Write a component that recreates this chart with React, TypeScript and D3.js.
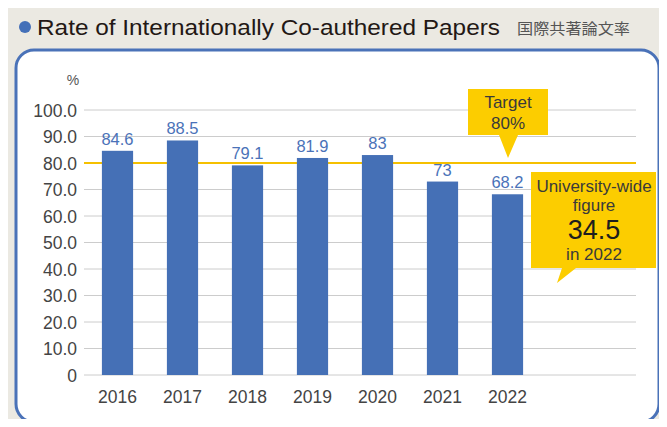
import React from "react";
import * as d3 from "d3";

const years = ["2016", "2017", "2018", "2019", "2020", "2021", "2022"];
const rates = [84.6, 88.5, 79.1, 81.9, 83, 73, 68.2];
const rateLabels = ["84.6", "88.5", "79.1", "81.9", "83", "73", "68.2"];
const yTicks = [0, 10, 20, 30, 40, 50, 60, 70, 80, 90, 100];
const target = 80;
const targetLines = ["Target", "80%"];
const uniLines = ["University-wide", "figure", "34.5", "in 2022"];

const W = 667, H = 427;
const font = "'Liberation Sans', Arial, sans-serif";

export default function App() {
  const y = d3.scaleLinear().domain([0, 100]).range([375, 110]);
  const x = d3.scaleBand().domain(years).range([85, 540]).paddingInner(0.52).paddingOuter(0.26);
  const bw = x.bandwidth();
  const yellow = "#fccd00";
  const blue = "#4570b6";
  const tX = 508;
  const txt = "#3a3a3a";
  return (
    <div style={{ margin: -8, width: W, height: H }}>
      <svg width={W} height={H} style={{ display: "block" }} fontFamily={font}>
        <rect width={W} height={H} fill="#ebe9e2" />
        <circle cx={25} cy={27} r={6} fill="#4470b8" />
        <text x={37} y={35} fontSize={21.5} fill="#231815" textLength={463} lengthAdjust="spacingAndGlyphs">Rate of Internationally Co-authered Papers</text>
        <text x={517} y={34} fontSize={15} fill="#555" fontFamily="'Noto Sans CJK JP', sans-serif" textLength={113} lengthAdjust="spacingAndGlyphs">国際共著論文率</text>
        <rect x={16} y={50} width={643} height={372} rx={18} fill="#fff" stroke="#4a72b8" strokeWidth={3} />
        <text x={73} y={85} fontSize={14} fill="#555" textAnchor="middle">%</text>
        {yTicks.map((t) => (
          <g key={t}>
            <line x1={84} x2={636} y1={y(t)} y2={y(t)} stroke="#cccccc" strokeWidth={1} />
            <text x={77} y={y(t) + 6.5} fontSize={17.5} fill="#444" textAnchor="end">{t === 0 ? "0" : t.toFixed(1)}</text>
          </g>
        ))}
        <line x1={84} x2={636} y1={y(target)} y2={y(target)} stroke="#f5c000" strokeWidth={2} />
        {years.map((yr, i) => (
          <g key={yr}>
            <rect x={x(yr)} y={y(rates[i])} width={bw} height={y(0) - y(rates[i])} fill={blue} />
            <text x={(x(yr) as number) + bw / 2} y={y(rates[i]) - 6} fontSize={16.5} fill="#4a72b8" textAnchor="middle">{rateLabels[i]}</text>
            <text x={(x(yr) as number) + bw / 2} y={403} fontSize={17.5} fill="#444" textAnchor="middle">{yr}</text>
          </g>
        ))}
        <path d={`M468,89 H548 V135 H${tX + 10} L${tX},158 L${tX - 9},135 H468 Z`} fill={yellow} />
        <text x={tX} y={108} fontSize={17} fill={txt} textAnchor="middle">{targetLines[0]}</text>
        <text x={tX} y={129} fontSize={17} fill={txt} textAnchor="middle">{targetLines[1]}</text>
        <path d={`M531,172 H656 V268 H576 L557,283 L562,268 H531 Z`} fill={yellow} />
        <text x={594} y={192} fontSize={17} fill={txt} textAnchor="middle">{uniLines[0]}</text>
        <text x={594} y={211} fontSize={17} fill={txt} textAnchor="middle">{uniLines[1]}</text>
        <text x={594} y={239} fontSize={27} fill="#1e1e1e" textAnchor="middle">{uniLines[2]}</text>
        <text x={594} y={260} fontSize={17} fill={txt} textAnchor="middle">{uniLines[3]}</text>
      </svg>
    </div>
  );
}
